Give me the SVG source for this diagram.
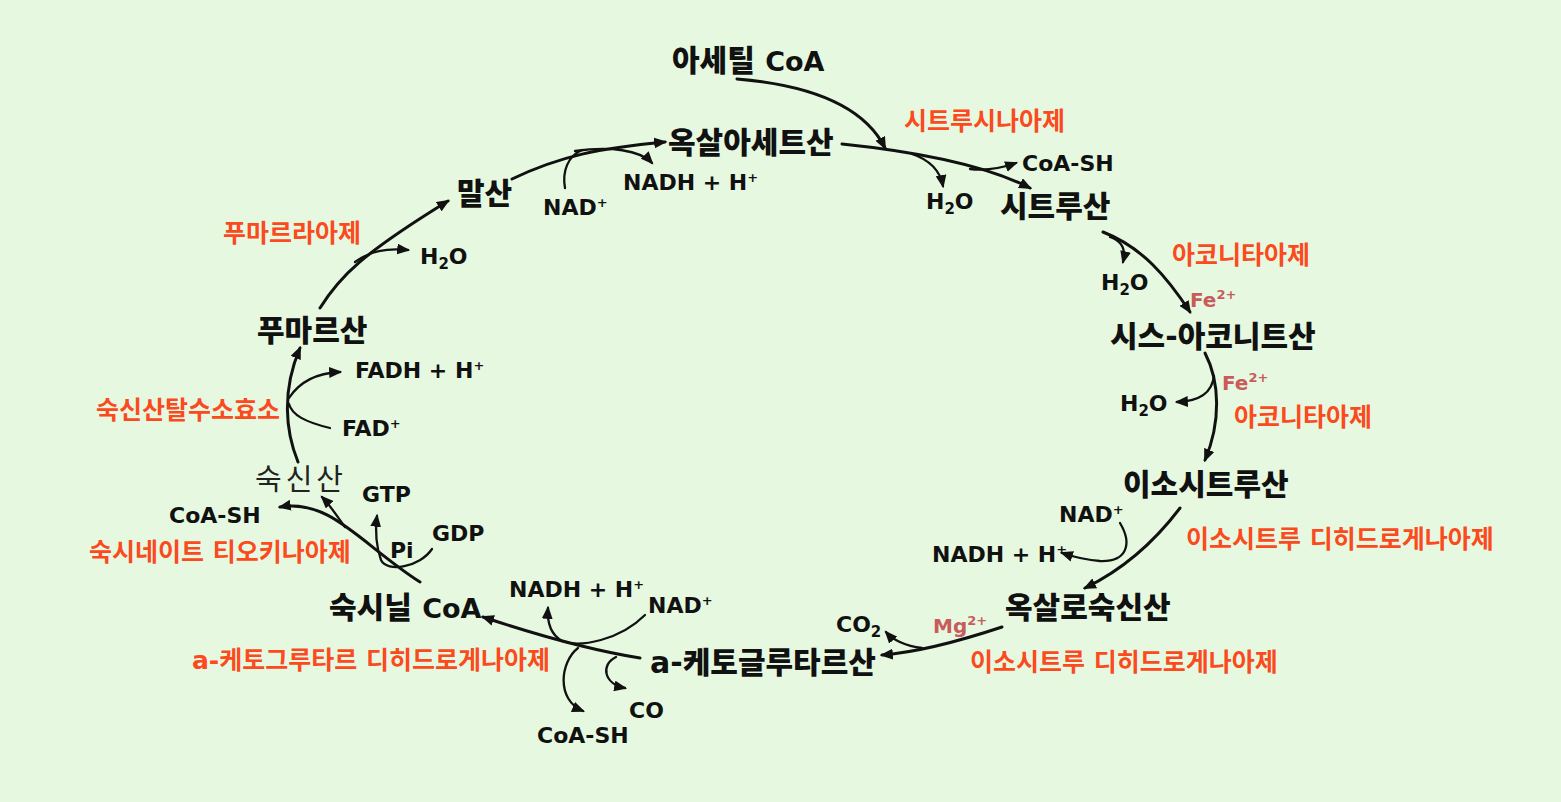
<svg xmlns="http://www.w3.org/2000/svg" width="1561" height="802" viewBox="0 0 1561 802">
<defs>
<marker id="ah" viewBox="0 0 12 10" refX="10" refY="5" markerWidth="13" markerHeight="11" orient="auto" markerUnits="userSpaceOnUse">
<path d="M0,0 L12,5 L0,10 z" fill="#111"/>
</marker>
<style>
.node{font-family:"DejaVu Sans","Noto Sans CJK KR",sans-serif;font-weight:900;font-size:30px;fill:#111}
.lat{font-size:27px;font-weight:bold}
.thin{font-family:"Noto Sans CJK KR",sans-serif;font-weight:normal;font-size:29px;fill:#222;letter-spacing:4px}
.enz{font-family:"DejaVu Sans","Noto Sans CJK KR",sans-serif;font-weight:bold;font-size:25px;fill:#fa4a1e}
.ion{font-family:"DejaVu Sans",sans-serif;font-weight:bold;font-size:20px;fill:#c95b5b}
.sm{font-family:"DejaVu Sans","Noto Sans CJK KR",sans-serif;font-weight:bold;font-size:22px;fill:#111}
.sup{font-size:13px}
.sub{font-size:15px}
.c{fill:none;stroke:#111;stroke-width:3;stroke-linecap:round}
.b{fill:none;stroke:#111;stroke-width:2.3;stroke-linecap:round}
.a{marker-end:url(#ah)}
</style>
</defs>
<rect width="1561" height="802" fill="#e6f9e0"/>

<g id="connectors">
<path class="c a" d="M737,79 C820,86 866,110 885,148"/>
<path class="c a" d="M842,144 C920,152 985,165 1030,188"/>
<path class="b a" d="M970,169 C988,171 1002,168 1016,163"/>
<path class="b a" d="M912,154 C930,160 940,170 943,186"/>
<path class="c a" d="M1103,232 C1142,247 1167,277 1190,312"/>
<path class="b a" d="M1110,237 C1122,241 1126,250 1123,262"/>
<path class="c a" d="M1205,353 C1220,382 1221,422 1205,460"/>
<path class="b a" d="M1214,376 C1212,393 1200,401 1177,402"/>
<path class="c a" d="M1180,508 C1152,545 1122,570 1085,588"/>
<path class="b a" d="M1120,523 C1132,543 1128,562 1100,561 C1085,560 1074,557 1062,553"/>
<path class="c a" d="M1002,627 C960,641 920,652 882,655"/>
<path class="b a" d="M922,648 C906,646 894,641 886,632"/>
<path class="c a" d="M640,658 C590,650 540,636 483,617"/>
<path class="b a" d="M645,615 C620,640 580,648 562,641 C550,634 547,622 548,608"/>
<path class="b a" d="M578,648 C560,662 556,700 583,711"/>
<path class="b a" d="M616,657 C600,665 604,684 625,688"/>
<path class="c a" d="M420,582 C362,545 330,498 280,507"/>
<path class="b a" d="M345,527 C336,515 330,505 322,497"/>
<path class="b a" d="M432,549 C420,567 387,573 381,560 C376,546 375,532 377,516"/>
<path class="c a" d="M298,462 C285,430 282,390 300,348"/>
<path class="b a" d="M289,398 C300,381 318,373 340,372"/>
<path class="b" d="M330,428 C305,422 292,415 289,404"/>
<path class="c a" d="M320,308 C340,276 362,254 448,201"/>
<path class="b a" d="M355,262 C370,251 386,248 408,250"/>
<path class="c a" d="M512,179 C560,156 600,148 665,142"/>
<path class="b a" d="M575,151 C610,146 640,150 652,163"/>
<path class="b" d="M565,188 C562,171 568,156 582,150"/>
</g>

<g id="n-acetylcoa"><text class="node" x="672" y="71">아세틸 <tspan class="lat">CoA</tspan></text></g>
<g id="n-oxaloacetate"><text class="node" x="668" y="153">옥살아세트산</text></g>
<g id="n-citrate"><text class="node" x="1000" y="217">시트루산</text></g>
<g id="n-cisaconitate"><text class="node" x="1110" y="347">시스-아코니트산</text></g>
<g id="n-isocitrate"><text class="node" x="1123" y="495">이소시트루산</text></g>
<g id="n-oxalosuccinate"><text class="node" x="1005" y="618">옥살로숙신산</text></g>
<g id="n-aketoglutarate"><text class="node" x="650" y="673">a-케토글루타르산</text></g>
<g id="n-succinylcoa"><text class="node" x="329" y="618">숙시닐 <tspan class="lat">CoA</tspan></text></g>
<g id="n-succinate"><text class="thin" x="255" y="490">숙신산</text></g>
<g id="n-fumarate"><text class="node" x="257" y="341">푸마르산</text></g>
<g id="n-malate"><text class="node" x="457" y="204">말산</text></g>

<g id="enzymes">
<text class="enz" x="904" y="130">시트루시나아제</text>
<text class="enz" x="1172" y="264">아코니타아제</text>
<text class="enz" x="1234" y="426">아코니타아제</text>
<text class="enz" x="1186" y="548">이소시트루 디히드로게나아제</text>
<text class="enz" x="970" y="671">이소시트루 디히드로게나아제</text>
<text class="enz" x="192" y="669">a-케토그루타르 디히드로게나아제</text>
<text class="enz" x="89" y="561">숙시네이트 티오키나아제</text>
<text class="enz" x="96" y="419">숙신산탈수소효소</text>
<text class="enz" x="223" y="242">푸마르라아제</text>
</g>

<g id="ions">
<text class="ion" x="1190" y="307">Fe<tspan class="sup" dy="-8">2+</tspan></text>
<text class="ion" x="1222" y="390">Fe<tspan class="sup" dy="-8">2+</tspan></text>
<text class="ion" x="933" y="633">Mg<tspan class="sup" dy="-8">2+</tspan></text>
</g>

<g id="cofactors">
<text class="sm" x="1022" y="171">CoA-SH</text>
<text class="sm" x="926" y="209">H<tspan class="sub" dy="5">2</tspan><tspan dy="-5">O</tspan></text>
<text class="sm" x="623" y="190">NADH + H<tspan class="sup" dy="-8">+</tspan></text>
<text class="sm" x="543" y="215">NAD<tspan class="sup" dy="-8">+</tspan></text>
<text class="sm" x="1101" y="290">H<tspan class="sub" dy="5">2</tspan><tspan dy="-5">O</tspan></text>
<text class="sm" x="1120" y="411">H<tspan class="sub" dy="5">2</tspan><tspan dy="-5">O</tspan></text>
<text class="sm" x="1059" y="522">NAD<tspan class="sup" dy="-8">+</tspan></text>
<text class="sm" x="932" y="562">NADH + H<tspan class="sup" dy="-8">+</tspan></text>
<text class="sm" x="836" y="632">CO<tspan class="sub" dy="5">2</tspan></text>
<text class="sm" x="509" y="597">NADH + H<tspan class="sup" dy="-8">+</tspan></text>
<text class="sm" x="648" y="613">NAD<tspan class="sup" dy="-8">+</tspan></text>
<text class="sm" x="629" y="718">CO</text>
<text class="sm" x="537" y="743">CoA-SH</text>
<text class="sm" x="362" y="502">GTP</text>
<text class="sm" x="432" y="541">GDP</text>
<text class="sm" x="390" y="558">Pi</text>
<text class="sm" x="169" y="523">CoA-SH</text>
<text class="sm" x="355" y="378">FADH + H<tspan class="sup" dy="-8">+</tspan></text>
<text class="sm" x="342" y="436">FAD<tspan class="sup" dy="-8">+</tspan></text>
<text class="sm" x="420" y="264">H<tspan class="sub" dy="5">2</tspan><tspan dy="-5">O</tspan></text>
</g>
</svg>
